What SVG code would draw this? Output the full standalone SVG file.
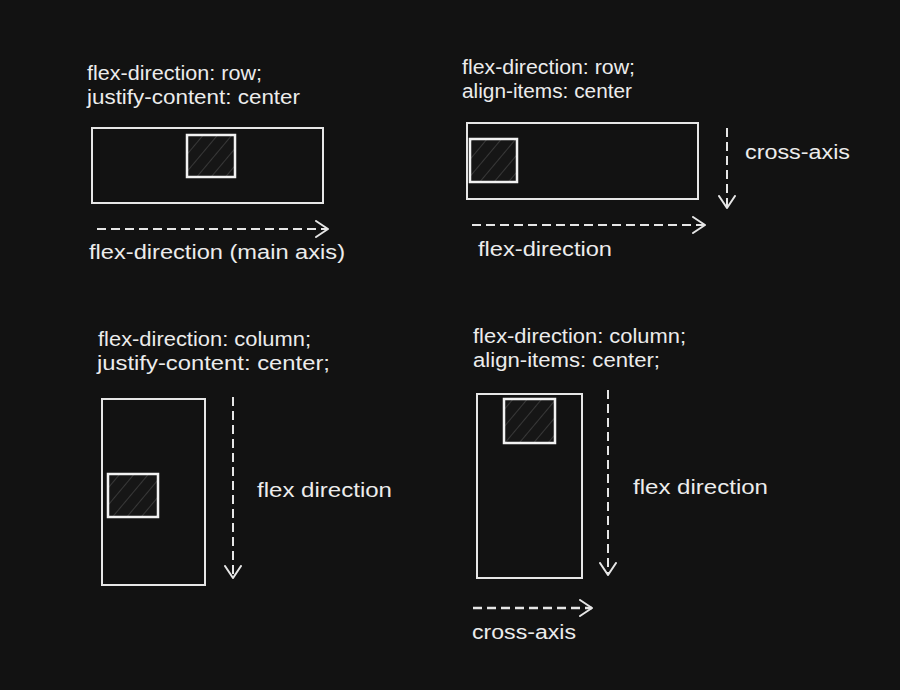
<svg xmlns="http://www.w3.org/2000/svg" width="900" height="690" viewBox="0 0 900 690">
<defs>
<style>
.t{font-family:"Liberation Sans","DejaVu Sans",sans-serif;font-size:20px;fill:#ececec}
.box{fill:none;stroke:#e6e6e6;stroke-width:2}
.item{fill:url(#hatch);stroke:#f2f2f2;stroke-width:2.5}
.arr{fill:none;stroke:#e6e6e6;stroke-width:2;stroke-dasharray:9 5;marker-end:url(#ah)}
</style>
<pattern id="hatch" patternUnits="userSpaceOnUse" width="11" height="11" patternTransform="rotate(40)">
<rect width="11" height="11" fill="#161616"/>
<line x1="0" y1="0" x2="0" y2="11" stroke="#5a5a5a" stroke-width="1"/>
</pattern>
<marker id="ah" viewBox="0 0 14 18" refX="13" refY="9" markerWidth="14" markerHeight="18" markerUnits="userSpaceOnUse" orient="auto">
<polyline points="1,1 13,9 1,17" fill="none" stroke="#e6e6e6" stroke-width="2" stroke-linecap="round" stroke-linejoin="round"/>
</marker>
</defs>
<rect width="900" height="690" fill="#121212"/>

<g id="panel1">
<text class="t" x="87" y="80" textLength="175" lengthAdjust="spacingAndGlyphs">flex-direction: row;</text>
<text class="t" x="87" y="104" textLength="213" lengthAdjust="spacingAndGlyphs">justify-content: center</text>
<rect id="container1" class="box" x="92" y="128" width="231" height="75"/>
<rect id="item1" class="item" x="187" y="135" width="48" height="42"/>
<text class="t" x="89" y="259" textLength="256" lengthAdjust="spacingAndGlyphs">flex-direction (main axis)</text>
</g>

<g id="panel2">
<text class="t" x="462" y="74" textLength="173" lengthAdjust="spacingAndGlyphs">flex-direction: row;</text>
<text class="t" x="462" y="98" textLength="170" lengthAdjust="spacingAndGlyphs">align-items: center</text>
<rect id="container2" class="box" x="467" y="123" width="231" height="76"/>
<rect id="item2" class="item" x="470" y="139" width="47" height="43"/>
<text class="t" x="745" y="159" textLength="105" lengthAdjust="spacingAndGlyphs">cross-axis</text>
<text class="t" x="478" y="256" textLength="134" lengthAdjust="spacingAndGlyphs">flex-direction</text>
</g>

<g id="panel3">
<text class="t" x="98" y="346" textLength="213" lengthAdjust="spacingAndGlyphs">flex-direction: column;</text>
<text class="t" x="97" y="370" textLength="233" lengthAdjust="spacingAndGlyphs">justify-content: center;</text>
<rect id="container3" class="box" x="102" y="399" width="103" height="186"/>
<rect id="item3" class="item" x="108" y="474" width="50" height="43"/>
<text class="t" x="257" y="497" textLength="135" lengthAdjust="spacingAndGlyphs">flex direction</text>
</g>

<g id="panel4">
<text class="t" x="473" y="343" textLength="213" lengthAdjust="spacingAndGlyphs">flex-direction: column;</text>
<text class="t" x="473" y="367" textLength="187" lengthAdjust="spacingAndGlyphs">align-items: center;</text>
<rect id="container4" class="box" x="477" y="394" width="105" height="184"/>
<rect id="item4" class="item" x="504" y="399" width="51" height="44"/>
<text class="t" x="633" y="494" textLength="135" lengthAdjust="spacingAndGlyphs">flex direction</text>
<text class="t" x="472" y="639" textLength="104" lengthAdjust="spacingAndGlyphs">cross-axis</text>
</g>

<g id="connectors">
<line class="arr" x1="97" y1="229" x2="328" y2="229"/>
<line class="arr" x1="727" y1="128" x2="727" y2="208"/>
<line class="arr" x1="472" y1="225" x2="705" y2="225"/>
<line class="arr" x1="233" y1="397" x2="233" y2="578"/>
<line class="arr" x1="608" y1="390" x2="608" y2="575"/>
<line class="arr" x1="473" y1="608" x2="592" y2="608" style="stroke-width:2.5"/>
</g>
</svg>
